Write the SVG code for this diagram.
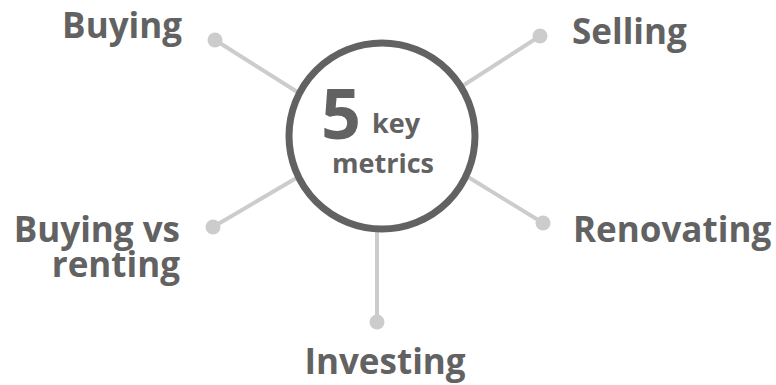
<svg xmlns="http://www.w3.org/2000/svg" width="776" height="385" viewBox="0 0 776 385">
  <style>
    .label { font-family: "Open Sans", "Noto Sans", "Liberation Sans", sans-serif; font-weight: 700; fill: #626262; font-size: 35px; }
    .hub-text { font-family: "Open Sans", "Noto Sans", "Liberation Sans", sans-serif; font-weight: 700; fill: #626262; }
    .spoke { stroke: #cccccc; stroke-width: 4; stroke-linecap: round; fill: none; }
    .dot { fill: #cccccc; }
    .hub { fill: #ffffff; stroke: #626262; stroke-width: 7; }
  </style>
  <rect width="776" height="385" fill="#ffffff"/>

  <!-- spokes from the hub to each topic -->
  <g id="connectors">
    <line class="spoke" x1="215" y1="40" x2="310" y2="100"/>
    <line class="spoke" x1="540" y1="36" x2="450" y2="94"/>
    <line class="spoke" x1="213" y1="227" x2="310" y2="170"/>
    <line class="spoke" x1="543" y1="223" x2="455" y2="169"/>
    <line class="spoke" x1="377" y1="322" x2="377" y2="228"/>
    <circle class="dot" cx="215" cy="40" r="7.5"/>
    <circle class="dot" cx="540" cy="36" r="7.5"/>
    <circle class="dot" cx="213" cy="227" r="7.5"/>
    <circle class="dot" cx="543" cy="223" r="7.5"/>
    <circle class="dot" cx="377" cy="322" r="7.5"/>
  </g>

  <!-- central hub -->
  <g id="hub">
    <circle class="hub" cx="382" cy="136" r="93"/>
    <text class="hub-text" x="321" y="139" font-size="70">5</text>
    <text class="hub-text" x="372" y="133" font-size="27">key</text>
    <text class="hub-text" x="383" y="173" font-size="27" text-anchor="middle">metrics</text>
  </g>

  <g id="buying">
    <text class="label" x="182" y="38" text-anchor="end">Buying</text>
  </g>
  <g id="selling">
    <text class="label" x="572" y="44">Selling</text>
  </g>
  <g id="buying-vs-renting">
    <text class="label" x="180" y="242" text-anchor="end">Buying vs</text>
    <text class="label" x="180" y="277" text-anchor="end">renting</text>
  </g>
  <g id="renovating">
    <text class="label" x="573" y="242">Renovating</text>
  </g>
  <g id="investing">
    <text class="label" x="385" y="374" text-anchor="middle">Investing</text>
  </g>
</svg>
